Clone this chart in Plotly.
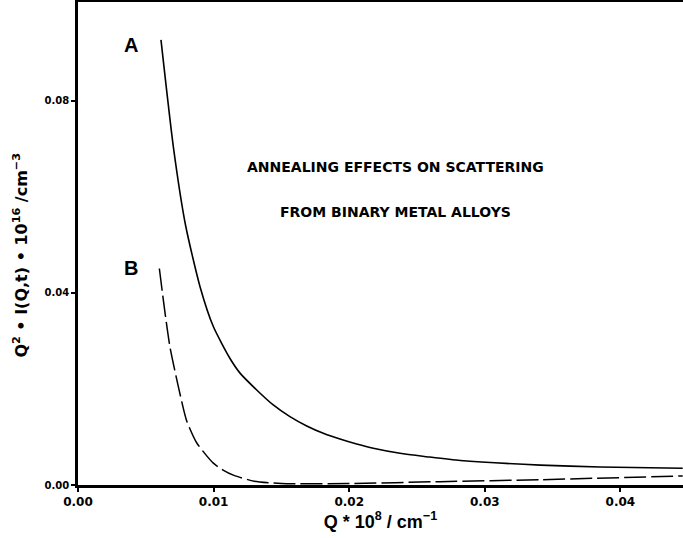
import plotly.graph_objects as go

# Curve A (solid)
q_a = [0.00612, 0.00703, 0.00794, 0.0090, 0.00998, 0.0112, 0.01195, 0.01318, 0.0144,
       0.01563, 0.01687, 0.01809, 0.01932, 0.02055, 0.02178, 0.02375, 0.0257, 0.0282,
       0.0341, 0.0385, 0.0446]
i_a = [0.0927, 0.0705, 0.0540, 0.0413, 0.0330, 0.0264, 0.0233, 0.01979, 0.01667,
       0.01423, 0.01229, 0.01077, 0.00958, 0.00854, 0.00765, 0.0066, 0.0059, 0.0051,
       0.00415, 0.00375, 0.0035]

# Curve B (dashed)
q_b = [0.0060, 0.00642, 0.00678, 0.0074, 0.0080, 0.00875, 0.00996, 0.0107, 0.0115,
       0.0130, 0.0150, 0.0200, 0.0267, 0.0341, 0.0446]
i_b = [0.0451, 0.0358, 0.0288, 0.0205, 0.0135, 0.0088, 0.0046, 0.0031, 0.0020,
       0.0008, 0.0003, 0.0003, 0.0007, 0.0011, 0.0019]

x_ticks = [0.00, 0.01, 0.02, 0.03, 0.04]
y_ticks = [0.00, 0.04, 0.08]

FONT = "Liberation Sans, Arial, Helvetica, sans-serif"
WIDE = "DejaVu Sans, Verdana, sans-serif"

fig = go.Figure()
fig.add_trace(go.Scatter(x=q_a, y=i_a, mode="lines",
                         line=dict(color="black", width=1.6, shape="spline", smoothing=0.6),
                         showlegend=False, hoverinfo="skip"))
fig.add_trace(go.Scatter(x=q_b, y=i_b, mode="lines",
                         line=dict(color="black", width=1.5, dash="22px,5px", shape="spline", smoothing=0.6),
                         showlegend=False, hoverinfo="skip"))

fig.add_annotation(x=0.0039, y=0.0917, text="<b>A</b>", showarrow=False,
                   font=dict(family=FONT, size=20, color="black"))
fig.add_annotation(x=0.0039, y=0.0452, text="<b>B</b>", showarrow=False,
                   font=dict(family=FONT, size=20, color="black"))
fig.add_annotation(x=0.02345, y=0.06625, text="<b>ANNEALING EFFECTS ON SCATTERING</b>", showarrow=False,
                   font=dict(family=WIDE, size=14, color="black"))
fig.add_annotation(x=0.02345, y=0.0569, text="<b>FROM BINARY METAL ALLOYS</b>", showarrow=False,
                   font=dict(family=WIDE, size=14, color="black"))
fig.add_annotation(xref="paper", yref="paper", x=-0.095, y=0.476, xanchor="center", yanchor="middle",
                   textangle=-90,
                   text="<b>Q<sup>2</sup> • I(Q,t) • 10<sup>16</sup> /cm<sup>−3</sup></b>",
                   showarrow=False, font=dict(family=WIDE, size=16, color="black"))

fig.update_layout(
    width=683, height=538,
    margin=dict(l=78, r=0, t=2, b=53),
    plot_bgcolor="white", paper_bgcolor="white",
    xaxis=dict(range=[0, 0.04462], tickvals=x_ticks, ticktext=[f"{v:.2f}" for v in x_ticks],
               showgrid=False, zeroline=False, showline=True, linecolor="black", linewidth=2.5,
               mirror=True, ticks="outside", ticklen=4, tickwidth=1.5, tickcolor="black",
               tickfont=dict(family=WIDE, size=12, color="black", weight="bold"),
               title=dict(text="<b>Q * 10<sup>8</sup> / cm<sup>−1</sup></b>", standoff=2,
                          font=dict(family=FONT, size=18, color="black"))),
    yaxis=dict(range=[0, 0.1006], tickvals=y_ticks, ticktext=[f"{v:.2f}" for v in y_ticks],
               showgrid=False, zeroline=False, showline=True, linecolor="black", linewidth=2.5,
               ticks="outside", ticklen=4, tickwidth=1.5, tickcolor="black",
               tickfont=dict(family=WIDE, size=10, color="black", weight="bold")),
)

fig.write_html("out.html", config={"displayModeBar": False},
               post_script="document.body.style.margin='0';")
